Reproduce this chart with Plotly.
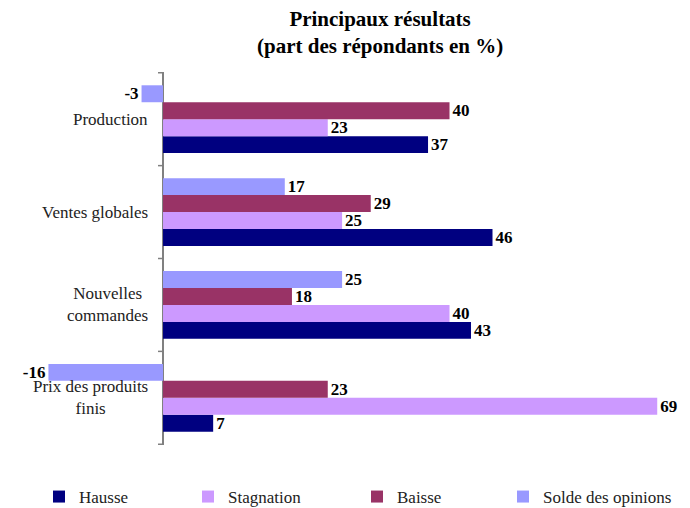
import plotly.graph_objects as go

# categories, top to bottom as in the chart
categories = ["Production", "Ventes globales", "Nouvelles commandes", "Prix des produits finis"]
cat_labels = ["Production", "Ventes globales", "Nouvelles<br>commandes", "Prix des produits<br>finis"]

hausse = [37, 46, 43, 7]
stagnation = [23, 25, 40, 69]
baisse = [40, 29, 18, 23]
solde = [-3, 17, 25, -16]

series = [
    ("Hausse", hausse, "#000080"),
    ("Stagnation", stagnation, "#CC99FF"),
    ("Baisse", baisse, "#993366"),
    ("Solde des opinions", solde, "#9999FF"),
]

# the page body has an 8px margin, so the figure is drawn 8px smaller
W, H = 682, 500
legend_x = [31, 180, 349, 495]  # px, one small legend per series

serif = "Liberation Serif"

fig = go.Figure()
for i, (name, vals, col) in enumerate(series):
    lg = "legend" if i == 0 else "legend%d" % (i + 1)
    fig.add_trace(go.Bar(
        y=categories, x=vals, name=name, orientation="h",
        marker_color=col, marker_line_width=0,
        text=vals, textposition="outside", cliponaxis=False,
        constraintext="none", legend=lg, showlegend=True,
        textfont=dict(family=serif, size=17, color="black", weight="bold"),
    ))
    fig.update_layout({lg: dict(orientation="h", xref="container", yref="container",
                                x=legend_x[i] / W, xanchor="left",
                                y=(H - 489) / H, yanchor="middle",
                                bgcolor="rgba(0,0,0,0)",
                                font=dict(family=serif, size=17, color="#222"))})

# category labels left of the axis
for c, lab in zip(categories, cat_labels):
    fig.add_annotation(x=0, y=c, xref="x", yref="y", text=lab, showarrow=False,
                       xanchor="right", xshift=-13, align="center",
                       font=dict(family=serif, size=17, color="#222"))

# little ticks at group boundaries
for b in [-0.5, 0.5, 1.5, 2.5, 3.5]:
    fig.add_shape(type="line", xref="x", yref="y", x0=-0.7, x1=0, y0=b, y1=b,
                  line=dict(color="#808080", width=1.5))

# title
fig.add_annotation(text="<b>Principaux résultats<br>(part des répondants en %)</b>",
                   xref="paper", yref="paper", x=(380 - 47) / 631, y=1.0,
                   xanchor="center", yanchor="bottom", yshift=12, showarrow=False,
                   font=dict(family=serif, size=21, color="black"))

fig.update_layout(
    width=W, height=H, showlegend=True,
    margin=dict(l=39, r=12, t=64, b=63, autoexpand=False),
    paper_bgcolor="white", plot_bgcolor="white",
    barmode="group", bargap=0.27, bargroupgap=0,
    xaxis=dict(range=[-16.2, 71.9], showgrid=False, showticklabels=False,
               zeroline=True, zerolinecolor="#808080", zerolinewidth=1.5,
               showline=False, ticks="", automargin=False),
    yaxis=dict(categoryorder="array", categoryarray=categories[::-1],
               showticklabels=False, showgrid=False, zeroline=False,
               showline=False, ticks="", automargin=False),
)

fig.write_html("out.html")
